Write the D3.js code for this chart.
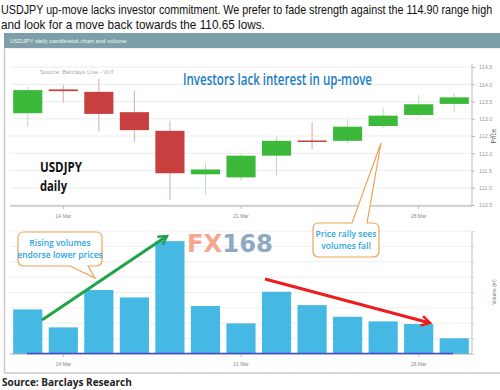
<!DOCTYPE html>
<html><head><meta charset="utf-8">
<script src="https://cdn.jsdelivr.net/npm/d3@7"></script>
<style>html,body{margin:0;padding:0;background:#fff;}svg{display:block;}</style>
</head><body>
<svg id="c" width="500" height="390"></svg>
<script>
const dates = ["11 Mar","14 Mar","15 Mar","16 Mar","17 Mar","18 Mar","21 Mar","22 Mar","23 Mar","24 Mar","25 Mar","28 Mar","29 Mar"];
const openP  = [113.16,113.85,113.78,113.19,112.65,111.39,111.30,111.93,112.37,112.36,112.79,113.11,113.43];
const highP  = [113.93,113.99,114.15,113.81,112.94,111.73,111.98,112.48,112.90,112.98,113.32,113.69,113.74];
const lowP   = [112.76,113.47,112.62,112.32,110.64,110.79,111.20,111.35,112.11,112.29,112.72,113.06,113.20];
const closeP = [113.83,113.80,113.14,112.67,111.42,111.53,111.93,112.36,112.35,112.77,113.09,113.42,113.62];
const volume = [2.90,1.73,4.16,3.68,7.34,3.12,1.99,4.05,3.18,2.42,2.12,1.95,1.02];
const priceTicks = [110.5,111.0,111.5,112.0,112.5,113.0,113.5,114.0,114.5];
const volTicks = [0,1,2,3,4,5,6,7,8];
const dateTicks = ["14 Mar","21 Mar","28 Mar"];

const svg = d3.select("#c");
const font = "'Liberation Sans', Arial, sans-serif";
const ofont = "'Open Sans', sans-serif";

// Title (horizontally scaled to fit)
const title = ["USDJPY up-move lacks investor commitment. We prefer to fade strength against the 114.90 range high",
               "and look for a move back towards the 110.65 lows."];
function fitText(str, y, targetW){
  const g = svg.append("g");
  const t = g.append("text").attr("x",0).attr("y",0).attr("font-family",font).attr("font-size",12)
    .attr("fill","#111").text(str);
  const w = t.node().getComputedTextLength();
  g.attr("transform",`translate(1,${y}) scale(${targetW/w},1)`);
}
fitText(title[0], 14, 492);
fitText(title[1], 28.5, 264);

// Panel
svg.append("rect").attr("x",4.5).attr("y",47.5).attr("width",500).attr("height",325.5)
  .attr("fill","#fff").attr("stroke","#c9c9c9").attr("stroke-width",1.5);
svg.append("rect").attr("x",4).attr("y",33).attr("width",496).attr("height",15).attr("fill","#7d9fa9");
svg.append("text").attr("x",10).attr("y",43).attr("font-family",font).attr("font-size",6).attr("fill","#f2f6f7")
  .text("USDJPY daily candlestick chart and volume");

// Scales
const x = d3.scaleBand().domain(dates).range([10,472]).paddingInner(0.18).paddingOuter(0.09);
const yP = d3.scaleLinear().domain([110.5,114.5]).range([205,67]);
const yV = d3.scaleLinear().domain([0,8]).range([354,231]);

// Price grid
svg.append("g").selectAll("line").data(priceTicks).join("line")
  .attr("x1",10).attr("x2",472).attr("y1",d=>yP(d)).attr("y2",d=>yP(d))
  .attr("stroke","#ececec").attr("stroke-width",1);
// Volume grid
svg.append("g").selectAll("line").data(volTicks.slice(1)).join("line")
  .attr("x1",10).attr("x2",472).attr("y1",d=>yV(d)).attr("y2",d=>yV(d))
  .attr("stroke","#eeeeee").attr("stroke-width",1);

svg.append("text").attr("x",40).attr("y",74).attr("font-family",font).attr("font-size",6).attr("fill","#aaa")
  .text("Source: Barclays Live - VoT");

// Price axis
const ax = svg.append("g").attr("transform","translate(472,0)")
  .call(d3.axisRight(yP).tickValues(priceTicks).tickFormat(d3.format(".1f")).tickSize(3).tickPadding(4));
ax.select(".domain").attr("stroke","#bbb").attr("d","M0,64V206");
ax.selectAll(".tick line").attr("stroke","#bbb");
ax.selectAll("text").attr("font-size",5.5).attr("fill","#999").attr("font-family",font);
svg.append("text").attr("transform","translate(496,136) rotate(-90)").attr("text-anchor","middle")
  .attr("font-family",font).attr("font-size",6.5).attr("fill","#555").text("Price");

// Price x axis
const axb = svg.append("g").attr("transform","translate(0,206)")
  .call(d3.axisBottom(x).tickValues(dateTicks).tickSize(3).tickPadding(5));
axb.select(".domain").attr("stroke","#aaa").attr("d","M10,0H472");
axb.selectAll(".tick line").attr("stroke","#bbb");
axb.selectAll("text").attr("font-size",5).attr("fill","#888").attr("font-family",font);

// Candles
const idx = d3.range(dates.length);
const col = i => closeP[i] >= openP[i] ? "#3cb93a" : "#c7403f";
svg.append("g").selectAll("line").data(idx).join("line")
  .attr("x1",i=>x(dates[i])+x.bandwidth()/2).attr("x2",i=>x(dates[i])+x.bandwidth()/2)
  .attr("y1",i=>yP(highP[i])).attr("y2",i=>yP(lowP[i]))
  .attr("stroke",i=>closeP[i] >= openP[i] ? "#b8e0b4" : "#e0a8a8").attr("stroke-width",1);
svg.append("g").selectAll("rect").data(idx).join("rect")
  .attr("x",i=>x(dates[i])).attr("width",x.bandwidth())
  .attr("y",i=>yP(Math.max(openP[i],closeP[i])))
  .attr("height",i=>Math.max(1.5,Math.abs(yP(openP[i])-yP(closeP[i]))))
  .attr("fill",i=>col(i));

// Labels in price chart
svg.append("text").attr("x",183).attr("y",85).attr("font-family",ofont).attr("font-size",15.5)
  .attr("font-weight",600).attr("fill","#1b7ec5").attr("textLength",189).attr("lengthAdjust","spacingAndGlyphs")
  .text("Investors lack interest in up-move");
svg.append("text").attr("x",40).attr("y",172).attr("font-family",ofont).attr("font-size",14)
  .attr("font-weight",700).attr("fill","#111").attr("textLength",42).attr("lengthAdjust","spacingAndGlyphs").text("USDJPY");
svg.append("text").attr("x",40).attr("y",191).attr("font-family",ofont).attr("font-size",14)
  .attr("font-weight",700).attr("fill","#111").attr("textLength",27).attr("lengthAdjust","spacingAndGlyphs").text("daily");

// Volume bars
svg.append("g").selectAll("rect").data(idx).join("rect")
  .attr("x",i=>x(dates[i])).attr("width",x.bandwidth())
  .attr("y",i=>yV(volume[i])).attr("height",i=>yV(0)-yV(volume[i]))
  .attr("fill","#45b8e4");

// Volume axis
const av = svg.append("g").attr("transform","translate(472,0)")
  .call(d3.axisRight(yV).tickValues(volTicks).tickFormat("").tickSize(3));
av.select(".domain").attr("stroke","#bbb").attr("d","M0,231V354");
av.selectAll(".tick line").attr("stroke","#ddd");
svg.append("text").attr("transform","translate(496,292) rotate(-90)").attr("text-anchor","middle")
  .attr("font-family",font).attr("font-size",5).attr("fill","#777").text("Volume (m)");

const avb = svg.append("g").attr("transform","translate(0,354)")
  .call(d3.axisBottom(x).tickValues(dateTicks).tickSize(3).tickPadding(5));
avb.select(".domain").attr("stroke","#aaa").attr("d","M10,0H472");
avb.selectAll(".tick line").attr("stroke","#bbb");
avb.selectAll("text").attr("font-size",5).attr("fill","#888").attr("font-family",font);
svg.append("line").attr("x1",27).attr("x2",453).attr("y1",353.5).attr("y2",353.5).attr("stroke","#4a4ad0").attr("stroke-width",1.5);

// FX168 logo
const logo = svg.append("text").attr("x",187).attr("y",252).attr("font-family","'DejaVu Sans', sans-serif")
  .attr("font-size",24).attr("font-weight",700).attr("textLength",86).attr("lengthAdjust","spacingAndGlyphs");
logo.append("tspan").attr("fill","#f6a78f").text("FX");
logo.append("tspan").attr("fill","#8eaac2").text("168");

// Arrow markers
const defs = svg.append("defs");
function marker(id, color){
  defs.append("marker").attr("id",id).attr("viewBox","0 0 10 10").attr("refX",8).attr("refY",5)
    .attr("markerWidth",4).attr("markerHeight",4).attr("orient","auto")
    .append("path").attr("d","M1,1 L8,5 L1,9").attr("fill","none").attr("stroke",color).attr("stroke-width",2);
}
marker("g","#1fa34a"); marker("r","#ee1c1c");
svg.append("line").attr("x1",42).attr("y1",320).attr("x2",167).attr("y2",236)
  .attr("stroke","#1fa34a").attr("stroke-width",3).attr("marker-end","url(#g)");
svg.append("line").attr("x1",265).attr("y1",279).attr("x2",430).attr("y2",323)
  .attr("stroke","#ee1c1c").attr("stroke-width",3).attr("marker-end","url(#r)");

// Callout 1
svg.append("path").attr("d","M24,232 H96 Q102,232 102,238 V260 Q102,266 96,266 H88 L95,278 L70,266 H24 Q18,266 18,260 V238 Q18,232 24,232 Z")
  .attr("fill","#fff").attr("stroke","#f0a35a").attr("stroke-width",1.2);
svg.append("text").attr("x",60).attr("y",246).attr("text-anchor","middle").attr("font-family",ofont)
  .attr("font-size",8.5).attr("font-weight",600).attr("fill","#2aa6df").text("Rising volumes");
svg.append("text").attr("x",60).attr("y",258).attr("text-anchor","middle").attr("font-family",ofont)
  .attr("font-size",8.5).attr("font-weight",600).attr("fill","#2aa6df").text("endorse lower prices");

// Callout 2
svg.append("path").attr("d","M319,223 H352 L381,143 L367,223 H373 Q379,223 379,229 V251 Q379,257 373,257 H319 Q313,257 313,251 V229 Q313,223 319,223 Z")
  .attr("fill","#fff").attr("stroke","#f0a35a").attr("stroke-width",1.2);
svg.append("text").attr("x",346).attr("y",237).attr("text-anchor","middle").attr("font-family",ofont)
  .attr("font-size",8.5).attr("font-weight",600).attr("fill","#2aa6df").text("Price rally sees");
svg.append("text").attr("x",346).attr("y",249).attr("text-anchor","middle").attr("font-family",ofont)
  .attr("font-size",8.5).attr("font-weight",600).attr("fill","#2aa6df").text("volumes fall");

// Source
svg.append("text").attr("x",2).attr("y",386).attr("font-family",ofont).attr("font-size",10)
  .attr("font-weight",700).attr("fill","#222").text("Source: Barclays Research");
</script>
</body></html>
